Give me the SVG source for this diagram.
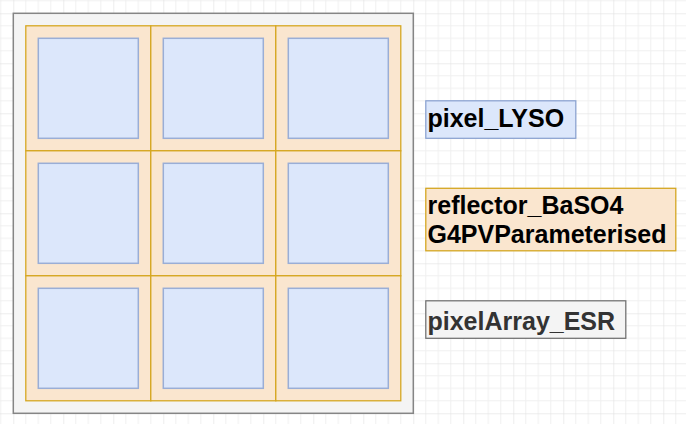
<svg xmlns="http://www.w3.org/2000/svg" width="686" height="424" viewBox="0 0 686 424">
  <defs>
    <pattern id="grid" patternUnits="userSpaceOnUse" x="13.3" y="13.3" width="50" height="50">
      <path d="M12.5 0V50M25 0V50M37.5 0V50M0 12.5H50M0 25H50M0 37.5H50" stroke="#f0f0f0" stroke-width="1" fill="none"/>
      <path d="M0 0V50M0 0H50" stroke="#dcdcdc" stroke-width="1" fill="none"/>
    </pattern>
  </defs>
  <style>
    .cell { fill: #fae6cf; stroke: #d4a51c; stroke-width: 1.25; }
    .pix { fill: #dce7fb; stroke: #9aaed6; stroke-width: 1.5; }
    .lbl { font-family: "Liberation Sans", Arial, sans-serif; font-weight: bold; font-size: 25px; }
  </style>
  <rect width="686" height="424" fill="#ffffff"/>
  <rect width="686" height="424" fill="url(#grid)"/>

  <g id="pixelArray_ESR">
    <rect x="13.3" y="13.3" width="400" height="400" fill="#f4f4f4" stroke="#858585" stroke-width="1.5"/>
  </g>

  <g id="reflectors">
    <rect class="cell" x="25.8" y="25.8" width="125" height="125"/>
    <rect class="cell" x="150.8" y="25.8" width="125" height="125"/>
    <rect class="cell" x="275.8" y="25.8" width="125" height="125"/>
    <rect class="cell" x="25.8" y="150.8" width="125" height="125"/>
    <rect class="cell" x="150.8" y="150.8" width="125" height="125"/>
    <rect class="cell" x="275.8" y="150.8" width="125" height="125"/>
    <rect class="cell" x="25.8" y="275.8" width="125" height="125"/>
    <rect class="cell" x="150.8" y="275.8" width="125" height="125"/>
    <rect class="cell" x="275.8" y="275.8" width="125" height="125"/>
  </g>

  <g id="pixels">
    <rect class="pix" x="38.3" y="38.3" width="100" height="100"/>
    <rect class="pix" x="163.3" y="38.3" width="100" height="100"/>
    <rect class="pix" x="288.3" y="38.3" width="100" height="100"/>
    <rect class="pix" x="38.3" y="163.3" width="100" height="100"/>
    <rect class="pix" x="163.3" y="163.3" width="100" height="100"/>
    <rect class="pix" x="288.3" y="163.3" width="100" height="100"/>
    <rect class="pix" x="38.3" y="288.3" width="100" height="100"/>
    <rect class="pix" x="163.3" y="288.3" width="100" height="100"/>
    <rect class="pix" x="288.3" y="288.3" width="100" height="100"/>
  </g>

  <g id="label_pixel_LYSO">
    <rect x="425.8" y="100.8" width="150" height="37.5" fill="#dce7fb" stroke="#8aa2d0" stroke-width="1.25"/>
    <text class="lbl" x="427.5" y="127" fill="#000000">pixel_LYSO</text>
  </g>

  <g id="label_reflector">
    <rect x="425.8" y="188.3" width="250" height="62.5" fill="#fae6cf" stroke="#d4a51c" stroke-width="1.25"/>
    <text class="lbl" x="427.5" y="214" fill="#000000">reflector_BaSO4</text>
    <text class="lbl" x="427.5" y="243.3" fill="#000000">G4PVParameterised</text>
  </g>

  <g id="label_pixelArray_ESR">
    <rect x="425.8" y="300.8" width="200" height="37.5" fill="#f4f4f4" stroke="#707070" stroke-width="1.25"/>
    <text class="lbl" x="427.5" y="330" fill="#333333">pixelArray_ESR</text>
  </g>

  <g id="connectors"/>
</svg>
